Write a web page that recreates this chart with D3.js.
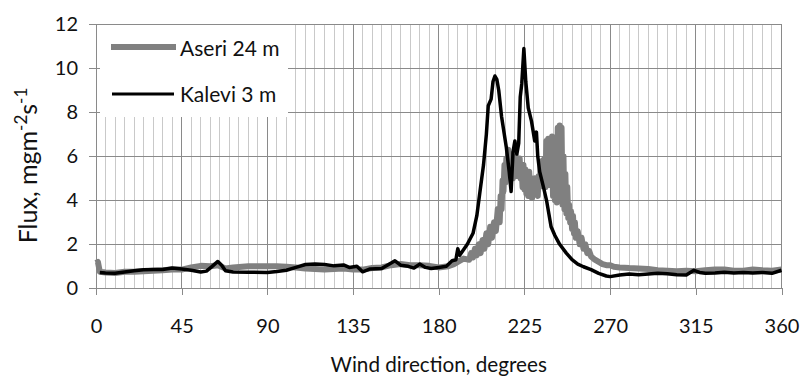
<!DOCTYPE html>
<html>
<head>
<meta charset="utf-8">
<script src="https://cdn.jsdelivr.net/npm/d3@7"></script>
<style>
  html, body { margin: 0; padding: 0; background: #fff; }
  svg { display: block; font-family: Lato, "Open Sans", sans-serif; }
</style>
</head>
<body>
<svg id="chart" width="803" height="380"></svg>
<script>
// Wind direction (degrees) and flux (mg m-2 s-1) for each station
const dirAseri = [0,1,2,5,10,15,20,25,30,35,40,45,50,55,60,64,68,72,80,90,95,100,105,110,115,120,125,130,135,140,145,150,155,160,165,170,175,180,185,188,190,193,196,197,198,199,200,201,202,203,204,205,206,207,208,209,210,211,212,212.5,213,213.5,214,214.5,215,215.5,216,216.5,217,217.5,218,218.5,219,219.5,220,220.5,221,221.5,222,222.5,223,223.5,224,224.5,225,225.5,226,226.5,227,227.5,228,228.5,229,229.5,230,230.5,231,231.5,232,232.5,233,233.5,234,234.5,235,235.5,236,236.5,237,237.5,238,238.5,239,239.5,240,240.5,241,241.5,242,242.5,243,243.5,244,244.5,245,245.5,246,246.5,247,247.5,248,248.5,249,249.5,250,250.5,251,251.5,252,253,254,255,256,257,258,259,260,262,264,266,268,270,272,275,280,285,290,295,300,305,310,315,320,325,330,335,340,345,350,355,360];
const fluxAseri = [1.15,1.2,0.75,0.72,0.7,0.75,0.75,0.78,0.8,0.82,0.85,0.85,0.95,1.02,1.0,1.05,0.9,0.95,1.0,1.0,1.0,0.98,0.95,0.9,0.88,0.85,0.88,0.9,0.85,0.85,0.92,0.95,1.05,1.1,1.05,1.05,1.02,0.95,1.0,1.1,1.2,1.35,1.3,1.6,1.4,1.8,1.5,2.0,1.6,2.2,1.8,2.5,2.0,2.8,2.3,3.0,2.6,3.6,3.0,4.2,3.6,4.9,4.4,5.6,4.8,5.9,5.2,6.3,5.5,6.1,5.2,5.8,5.0,5.6,5.3,6.0,5.1,5.7,5.2,5.9,5.0,5.5,4.6,5.6,4.5,5.4,4.3,5.2,4.2,5.3,4.4,5.0,4.1,4.9,4.3,5.0,4.4,4.9,4.2,5.1,4.6,5.6,4.9,5.8,4.8,5.9,4.6,6.7,5.0,6.8,4.7,6.6,4.9,6.9,4.2,6.5,4.0,6.3,3.9,7.3,4.2,7.4,4.0,7.3,3.8,6.0,3.6,5.2,3.4,4.6,3.2,3.8,3.0,3.5,2.7,3.3,2.5,3.0,2.3,2.6,2.0,2.3,1.8,2.0,1.6,1.7,1.45,1.3,1.2,1.1,1.05,1.05,0.98,0.95,0.92,0.9,0.88,0.82,0.8,0.78,0.8,0.78,0.82,0.85,0.85,0.8,0.8,0.85,0.82,0.8,0.85];

const dirKalevi = [2,5,10,15,20,25,30,35,40,45,50,55,58,61,64,66,68,72,80,90,95,100,105,110,115,120,125,130,133,137,140,144,150,153,157,160,164,167,170,173,176,180,184,187,189,190,191,193,195,198,200,201.5,203.5,205,206,207.5,208.5,209.5,210.5,211.5,213,215.5,217,218,219,220,221,222,222.8,223.6,224.7,225.7,227,228.7,230.4,231.3,232,233,235,236.6,239,241,243.5,247,250,253,256,260,264,268,270,275,280,285,290,295,300,305,310,314,317,320,325,330,335,340,345,350,355,360];
const fluxKalevi = [0.72,0.7,0.68,0.74,0.8,0.84,0.86,0.85,0.92,0.88,0.82,0.74,0.78,1.0,1.22,1.05,0.8,0.74,0.73,0.72,0.76,0.82,0.95,1.08,1.1,1.08,1.02,1.06,0.95,1.0,0.75,0.88,0.9,1.05,1.25,1.05,1.0,0.92,1.1,0.95,0.9,0.95,1.0,1.25,1.3,1.8,1.5,1.75,2.0,2.5,3.3,4.3,5.6,7.0,8.3,8.6,9.4,9.65,9.5,9.0,7.8,6.4,5.3,4.4,6.2,6.7,6.1,6.6,8.7,9.3,10.9,9.4,8.2,7.6,6.7,7.1,6.0,5.3,4.6,4.0,2.8,2.4,2.0,1.6,1.3,1.1,0.98,0.85,0.68,0.56,0.53,0.6,0.65,0.62,0.65,0.68,0.66,0.62,0.6,0.82,0.72,0.68,0.7,0.73,0.7,0.72,0.7,0.72,0.68,0.82];

const xTicks = [0,45,90,135,180,225,270,315,360];
const yTicks = [0,2,4,6,8,10,12];
const minorX = d3.range(0, 361, 5);

const svg = d3.select("#chart");
const plotLeft = 96, plotRight = 781.5, plotTop = 24.3, plotBottom = 288.3;

const x = d3.scaleLinear().domain([0, 360]).range([plotLeft, plotRight]);
const y = d3.scaleLinear().domain([0, 12]).range([plotBottom, plotTop]);

const grid = svg.append("g").attr("shape-rendering", "crispEdges");
// minor vertical grid every 5 degrees
grid.selectAll("line.minor").data(minorX.filter(d => d % 45 !== 0)).join("line")
  .attr("class", "minor")
  .attr("x1", d => x(d)).attr("x2", d => x(d))
  .attr("y1", plotTop).attr("y2", plotBottom)
  .attr("stroke", "#c9c9c9").attr("stroke-width", 1);
// major vertical grid
grid.selectAll("line.major").data(xTicks).join("line")
  .attr("class", "major")
  .attr("x1", d => x(d)).attr("x2", d => x(d))
  .attr("y1", plotTop).attr("y2", plotBottom)
  .attr("stroke", "#8a8a8a").attr("stroke-width", 1);
// horizontal grid
grid.selectAll("line.h").data(yTicks).join("line")
  .attr("class", "h")
  .attr("x1", plotLeft).attr("x2", plotRight)
  .attr("y1", d => y(d)).attr("y2", d => y(d))
  .attr("stroke", "#8a8a8a").attr("stroke-width", 1);

// axes
const xAxis = svg.append("g")
  .attr("transform", `translate(0,${plotBottom})`)
  .call(d3.axisBottom(x).tickValues(xTicks).tickSize(7).tickPadding(24).tickFormat(d3.format("d")));
const yAxis = svg.append("g")
  .attr("transform", `translate(${plotLeft},0)`)
  .call(d3.axisLeft(y).tickValues(yTicks).tickSize(7).tickPadding(11).tickFormat(d3.format("d")));
[xAxis, yAxis].forEach(g => {
  g.select(".domain").attr("stroke", "#8a8a8a").attr("shape-rendering", "crispEdges");
  g.selectAll(".tick line").attr("stroke", "#8a8a8a").attr("shape-rendering", "crispEdges");
  g.selectAll("text").attr("fill", "#111").style("font-size", "20px").style("font-family", "Lato, 'Open Sans', sans-serif");
});

// legend box covers the grid in the upper left
svg.append("rect").attr("x", 100).attr("y", 25).attr("width", 188).attr("height", 92).attr("fill", "#fff");

const line = d3.line().x(d => x(d[0])).y(d => y(d[1]));

svg.append("path")
  .datum(d3.zip(dirAseri, fluxAseri))
  .attr("d", line)
  .attr("fill", "none").attr("stroke", "#808080")
  .attr("stroke-width", 6).attr("stroke-linejoin", "round");

svg.append("path")
  .datum(d3.zip(dirKalevi, fluxKalevi))
  .attr("d", line)
  .attr("fill", "none").attr("stroke", "#000")
  .attr("stroke-width", 3.5).attr("stroke-linejoin", "round");

// legend entries
const legend = svg.append("g").style("font-size", "21px").attr("fill", "#111");
legend.append("line").attr("x1", 111).attr("x2", 176).attr("y1", 47).attr("y2", 47)
  .attr("stroke", "#808080").attr("stroke-width", 6);
legend.append("text").attr("x", 180).attr("y", 55.5).text("Aseri 24 m");
legend.append("line").attr("x1", 112).attr("x2", 174).attr("y1", 94).attr("y2", 94)
  .attr("stroke", "#000").attr("stroke-width", 3);
legend.append("text").attr("x", 180).attr("y", 102).text("Kalevi 3 m");

// axis titles
svg.append("text")
  .attr("x", (plotLeft + plotRight) / 2).attr("y", 371.5)
  .attr("text-anchor", "middle").style("font-size", "20.7px").attr("fill", "#111")
  .text("Wind direction, degrees");

const yt = svg.append("text")
  .attr("transform", "translate(37,165.5) rotate(-90)")
  .attr("text-anchor", "middle").style("font-size", "25px").attr("fill", "#111");
yt.append("tspan").text("Flux, mgm");
yt.append("tspan").attr("dy", -10).style("font-size", "17px").text("-2");
yt.append("tspan").attr("dy", 10).text("s");
yt.append("tspan").attr("dy", -10).style("font-size", "17px").text("-1");
</script>
</body>
</html>
